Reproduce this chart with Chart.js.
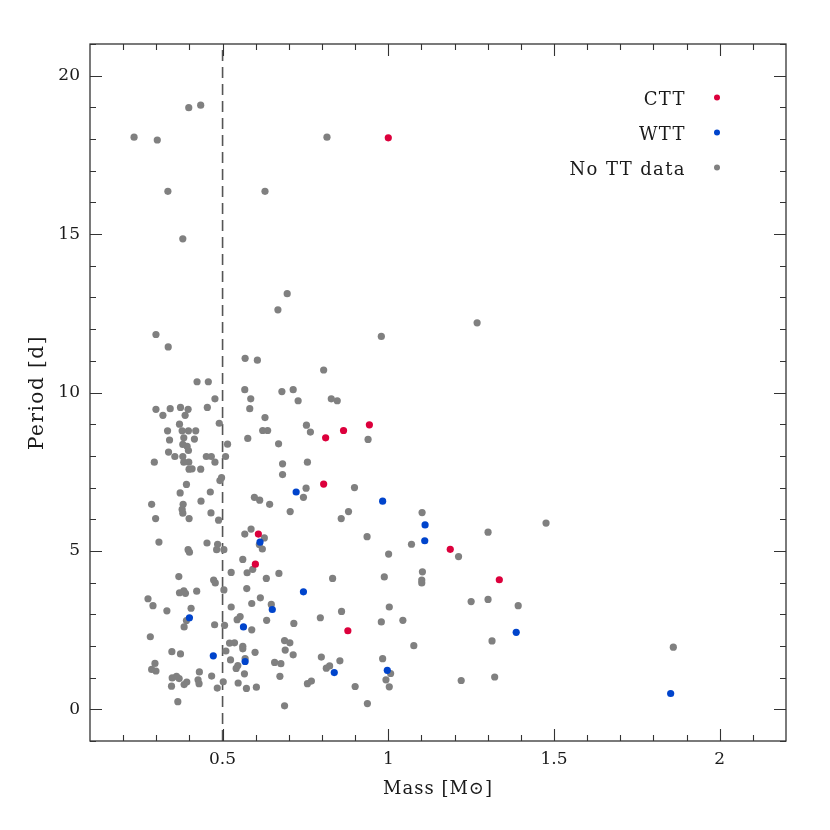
<!DOCTYPE html>
<html>
<head>
<meta charset="utf-8">
<script src="https://cdn.jsdelivr.net/npm/chart.js@4/dist/chart.umd.min.js"></script>
<style>
  html, body { margin: 0; padding: 0; background: #fff; }
  #wrap { width: 830px; height: 830px; }
</style>
</head>
<body>
<div id="wrap"><canvas id="chart" width="830" height="830"></canvas></div>
<script>
// legend order and colours
const seriesNames = ['CTT', 'WTT', 'No TT data'];
const seriesColors = ['#dc003c', '#0044cc', '#808080'];

// classical T Tauri
const cttMass   = [1.000, 0.811, 0.865, 0.943, 0.805, 0.608, 0.599, 1.187, 1.335, 0.878];
const cttPeriod = [18.04, 8.57, 8.80, 8.98, 7.11, 5.53, 4.58, 5.05, 4.09, 2.48];

// weak-line T Tauri
const wttMass   = [0.722, 0.983, 1.111, 1.110, 0.613, 0.744, 0.650, 0.400, 0.563, 0.472, 0.568, 1.386, 0.837, 0.997, 1.852];
const wttPeriod = [6.86, 6.57, 5.82, 5.32, 5.28, 3.71, 3.15, 2.89, 2.60, 1.69, 1.51, 2.43, 1.16, 1.23, 0.50];

// no TT classification
const noMass = [
  0.398, 0.434, 0.233, 0.303, 0.815, 0.335, 0.628, 0.380, 0.695, 0.667, 0.299, 0.336, 0.568, 0.605, 0.805, 1.268, 0.979,
  0.423, 0.457, 0.477, 0.299, 0.320, 0.342, 0.373, 0.396, 0.387, 0.454, 0.490, 0.370, 0.334, 0.378, 0.397, 0.419,
  0.340, 0.383, 0.415, 0.380, 0.393, 0.397, 0.337, 0.356, 0.380, 0.451, 0.466, 0.477, 0.294, 0.383, 0.398, 0.399,
  0.408, 0.434, 0.391, 0.372, 0.463, 0.286, 0.381, 0.378, 0.380, 0.435, 0.465, 0.298, 0.399, 0.488, 0.308, 0.453,
  0.497, 0.492,
  0.396, 0.400, 0.485, 0.482, 0.504,
  0.368, 0.473, 0.478, 0.370, 0.383, 0.388, 0.422, 0.275, 0.290, 0.332, 0.405, 0.391, 0.384, 0.476, 0.282, 0.347,
  0.373, 0.296, 0.286, 0.299, 0.348, 0.361, 0.369, 0.346, 0.384, 0.392, 0.430, 0.426, 0.429, 0.467, 0.484, 0.365,
  0.567, 0.585, 0.582, 0.679, 0.713, 0.728, 0.628, 0.621, 0.636, 0.576, 0.515, 0.669, 0.753, 0.765, 0.509, 0.681,
  0.756, 0.681, 0.752, 0.744, 0.596, 0.612, 0.642, 0.704, 0.567, 0.586, 0.626,
  0.611, 0.620, 0.561, 0.591, 0.574, 0.526, 0.670, 0.632, 0.504, 0.573, 0.614, 0.588, 0.647, 0.526, 0.553, 0.544,
  0.633, 0.715, 0.795, 0.506, 0.588, 0.521, 0.536, 0.561, 0.561, 0.510, 0.598, 0.687, 0.703, 0.689, 0.713, 0.568,
  0.524, 0.546, 0.541, 0.657, 0.676, 0.798, 0.813, 0.823, 0.566, 0.673, 0.502, 0.547, 0.572, 0.602, 0.756, 0.768, 0.687,
  0.828, 0.846, 0.939, 0.898, 0.880, 0.858, 1.102, 0.936, 1.070, 1.001, 0.832, 0.988, 1.103, 1.101, 1.101, 0.859,
  1.003, 0.979, 1.044, 1.077, 0.854, 0.983, 1.007, 0.993, 1.003, 0.900, 0.937,
  1.476, 1.301, 1.212, 1.250, 1.301, 1.392, 1.313, 1.220, 1.321, 1.860
];
const noPeriod = [
  18.99, 19.07, 18.06, 17.97, 18.06, 16.35, 16.35, 14.85, 13.12, 12.61, 11.83, 11.44, 11.08, 11.02, 10.71, 12.20, 11.77,
  10.34, 10.34, 9.80, 9.47, 9.28, 9.49, 9.53, 9.47, 9.28, 9.53, 9.03, 9.00, 8.79, 8.79, 8.79, 8.79,
  8.50, 8.57, 8.53, 8.36, 8.30, 8.17, 8.12, 7.98, 7.98, 7.98, 7.98, 7.80, 7.80, 7.80, 7.80, 7.58,
  7.59, 7.58, 7.10, 6.83, 6.86, 6.47, 6.47, 6.31, 6.19, 6.57, 6.20, 6.02, 6.02, 5.97, 5.28, 5.25,
  7.31, 7.22,
  5.04, 4.96, 5.21, 5.04, 5.04,
  4.19, 4.08, 3.99, 3.68, 3.74, 3.66, 3.73, 3.49, 3.27, 3.11, 3.19, 2.80, 2.60, 2.67, 2.29, 1.82,
  1.75, 1.45, 1.26, 1.21, 0.99, 1.04, 0.97, 0.73, 0.78, 0.86, 1.18, 0.93, 0.81, 1.05, 0.67, 0.24,
  10.09, 9.80, 9.49, 10.03, 10.09, 9.74, 9.21, 8.80, 8.80, 8.55, 8.37, 8.38, 8.97, 8.75, 7.98, 7.75,
  7.80, 7.41, 6.98, 6.69, 6.69, 6.60, 6.47, 6.24, 5.53, 5.69, 5.41,
  5.20, 5.06, 4.73, 4.42, 4.31, 4.32, 4.29, 4.13, 3.77, 3.81, 3.52, 3.34, 3.31, 3.23, 2.93, 2.83,
  2.81, 2.71, 2.89, 2.65, 2.51, 2.09, 2.10, 1.99, 1.91, 1.84, 1.80, 2.17, 2.10, 1.87, 1.72, 1.60,
  1.56, 1.38, 1.29, 1.48, 1.44, 1.65, 1.30, 1.37, 1.12, 1.04, 0.87, 0.83, 0.66, 0.70, 0.81, 0.89, 0.11,
  9.80, 9.74, 8.52, 7.00, 6.24, 6.02, 6.21, 5.45, 5.21, 4.90, 4.13, 4.18, 4.34, 4.08, 3.99, 3.09,
  3.23, 2.76, 2.81, 2.01, 1.53, 1.60, 1.13, 0.93, 0.71, 0.72, 0.18,
  5.88, 5.59, 4.82, 3.40, 3.47, 3.27, 2.16, 0.91, 1.02, 1.96
];

const xTicks = [0.5, 1, 1.5, 2];
const yTicks = [0, 5, 10, 15, 20];
const cutMass = 0.5;
const xTitle = 'Mass [M⊙]';
const yTitle = 'Period [d]';

function pts(xs, ys) {
  return xs.map((v, i) => ({ x: v, y: ys[i] }));
}

const FONT = 'DejaVu Serif';
const INK = '#1a1a1a';
Chart.defaults.font.family = FONT;
Chart.defaults.color = INK;

// box, inward ticks on all four sides, axis titles and the legend (text then dot)
const frame = {
  id: 'frame',
  afterDraw(chart) {
    const { ctx, chartArea: a, scales: { x, y } } = chart;
    ctx.save();
    ctx.strokeStyle = '#333';
    ctx.lineWidth = 1.3;
    ctx.strokeRect(a.left, a.top, a.right - a.left, a.bottom - a.top);

    ctx.lineWidth = 1.1;
    ctx.beginPath();
    for (let i = 2; i <= 21; i++) {
      const v = i / 10;
      const len = (i % 5 === 0) ? 12 : 6;
      const px = Math.round(x.getPixelForValue(v)) + 0.5;
      ctx.moveTo(px, a.bottom); ctx.lineTo(px, a.bottom - len);
      ctx.moveTo(px, a.top); ctx.lineTo(px, a.top + len);
    }
    for (let v = -1; v <= 21; v++) {
      const len = (v % 5 === 0) ? 12 : 6;
      const py = Math.round(y.getPixelForValue(v)) + 0.5;
      ctx.moveTo(a.left, py); ctx.lineTo(a.left + len, py);
      ctx.moveTo(a.right, py); ctx.lineTo(a.right - len, py);
    }
    ctx.stroke();

    ctx.fillStyle = INK;
    ctx.textBaseline = 'alphabetic';
    ctx.textAlign = 'center';

    // x title
    ctx.font = '18px "' + FONT + '"';
    ctx.letterSpacing = '1px';
    ctx.fillText(xTitle, (a.left + a.right) / 2, a.bottom + 53);

    // y title
    ctx.save();
    ctx.font = '20px "' + FONT + '"';
    ctx.letterSpacing = '1.5px';
    ctx.translate(43, (a.top + a.bottom) / 2);
    ctx.rotate(-Math.PI / 2);
    ctx.fillText(yTitle, 0, 0);
    ctx.restore();

    // legend
    ctx.font = '18px "' + FONT + '"';
    ctx.letterSpacing = '1.4px';
    ctx.textAlign = 'right';
    seriesNames.forEach((name, i) => {
      const base = a.top + 60.5 + i * 35;
      ctx.fillStyle = INK;
      ctx.fillText(name, a.right - 100, base);
      ctx.fillStyle = seriesColors[i];
      ctx.beginPath();
      ctx.arc(a.right - 69, a.top + 53.5 + i * 35, 3, 0, Math.PI * 2);
      ctx.fill();
    });
    ctx.restore();
  }
};

const dot = (c) => ({
  type: 'scatter',
  backgroundColor: c,
  borderWidth: 0,
  pointRadius: 3.6,
  pointHoverRadius: 3.6
});

new Chart(document.getElementById('chart'), {
  type: 'scatter',
  data: {
    datasets: [
      Object.assign(dot(seriesColors[0]), { label: seriesNames[0], data: pts(cttMass, cttPeriod) }),
      Object.assign(dot(seriesColors[1]), { label: seriesNames[1], data: pts(wttMass, wttPeriod) }),
      Object.assign(dot(seriesColors[2]), { label: seriesNames[2], data: pts(noMass, noPeriod) }),
      {
        type: 'line',
        label: 'cut',
        data: [{ x: cutMass, y: -1 }, { x: cutMass, y: 21 }],
        borderColor: '#555',
        borderWidth: 1.6,
        borderDash: [11, 6],
        pointRadius: 0,
        fill: false
      }
    ]
  },
  options: {
    responsive: false,
    animation: false,
    events: [],
    layout: { padding: { top: 44, right: 44, left: 0, bottom: 0 } },
    plugins: {
      legend: { display: false },
      tooltip: { enabled: false }
    },
    scales: {
      x: {
        type: 'linear',
        min: 0.1,
        max: 2.2,
        grid: { display: false, drawTicks: false },
        border: { display: false },
        afterBuildTicks: (s) => { s.ticks = xTicks.map(v => ({ value: v })); },
        afterFit: (s) => { s.height = 89; },
        ticks: {
          padding: 8,
          maxRotation: 0,
          font: { size: 17 },
          color: INK,
          callback: (v) => String(v)
        }
      },
      y: {
        type: 'linear',
        min: -1,
        max: 21,
        grid: { display: false, drawTicks: false },
        border: { display: false },
        afterBuildTicks: (s) => { s.ticks = yTicks.map(v => ({ value: v })); },
        afterFit: (s) => { s.width = 90; },
        ticks: {
          padding: 10,
          font: { size: 17 },
          color: INK,
          callback: (v) => String(v)
        }
      }
    }
  },
  plugins: [frame]
});
</script>
</body>
</html>
